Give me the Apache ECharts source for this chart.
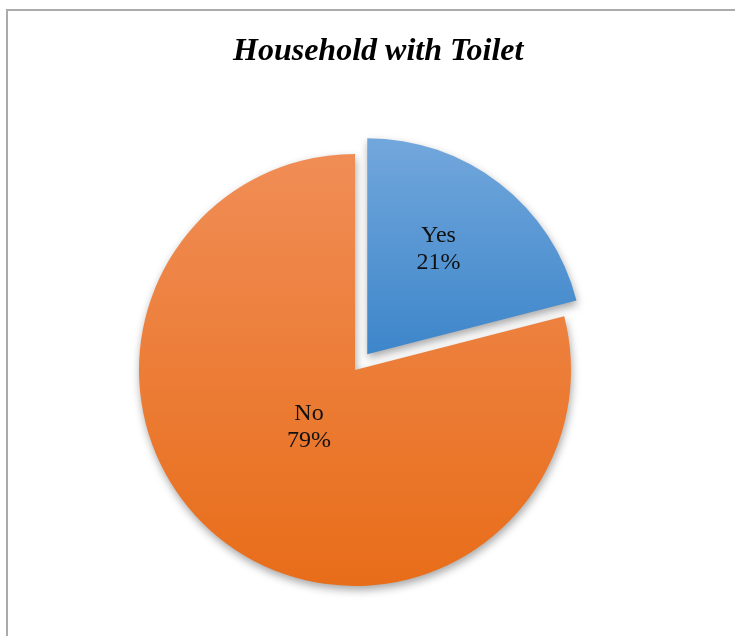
<!DOCTYPE html>
<html>
<head>
<meta charset="utf-8">
<script src="https://cdn.jsdelivr.net/npm/echarts@6/dist/echarts.min.js"></script>
<style>
  html, body { margin: 0; padding: 0; width: 735px; height: 636px; overflow: hidden; background: #fff; }
  #frame { position: absolute; left: 6px; top: 9px; width: 800px; height: 700px; border: 2px solid #ababab; box-sizing: border-box; }
  #chart { position: absolute; left: 0; top: 0; width: 735px; height: 636px; }
</style>
</head>
<body>
<div id="frame"></div>
<div id="chart"></div>
<script>
const titleText = 'Household with Toilet';
const categories = ['Yes', 'No'];
const values = [21, 79];

const topColors = ['#72a7dc', '#f08d56'];
const bottomColors = ['#3d86ca', '#e86d19'];

const chart = echarts.init(document.getElementById('chart'), null, { renderer: 'canvas' });

const mainData = categories.map((c, i) => ({
  name: c,
  value: values[i],
  selected: i === 0,
  itemStyle: {
    color: {
      type: 'linear', x: 0, y: 0, x2: 0, y2: 1,
      colorStops: [{ offset: 0, color: topColors[i] }, { offset: 1, color: bottomColors[i] }]
    }
  }
}));

const plainData = categories.map((c, i) => ({ name: c, value: values[i] }));

function labelStyle(showName) {
  return {
    show: true,
    position: 'inside',
    formatter: p => (p.name === showName ? p.name + '\n' + p.percent + '%' : ''),
    fontFamily: 'Liberation Serif',
    fontSize: 24,
    lineHeight: 27,
    color: '#111'
  };
}

const labelSeriesBase = {
  type: 'pie',
  z: 5,
  startAngle: 90,
  clockwise: true,
  silent: true,
  avoidLabelOverlap: false,
  itemStyle: { color: 'rgba(0,0,0,0)' },
  labelLine: { show: false },
  data: plainData
};

chart.setOption({
  animation: false,
  title: {
    text: titleText,
    left: 228,
    top: 31,
    textStyle: {
      fontFamily: 'Liberation Serif',
      fontStyle: 'italic',
      fontWeight: 'bold',
      fontSize: 32,
      color: '#000'
    }
  },
  series: [
    {
      type: 'pie',
      z: 2,
      center: [355, 370],
      radius: 216,
      startAngle: 90,
      clockwise: true,
      selectedMode: 'single',
      selectedOffset: 20,
      silent: true,
      label: { show: false },
      labelLine: { show: false },
      itemStyle: {
        borderWidth: 0,
        shadowColor: 'rgba(0,0,0,0.35)',
        shadowBlur: 8,
        shadowOffsetX: 1,
        shadowOffsetY: 4
      },
      data: mainData
    },
    Object.assign({}, labelSeriesBase, { center: [355, 368], radius: 144, label: labelStyle('No') }),
    Object.assign({}, labelSeriesBase, { center: [352, 361], radius: 276, label: labelStyle('Yes') })
  ]
});
</script>
</body>
</html>
